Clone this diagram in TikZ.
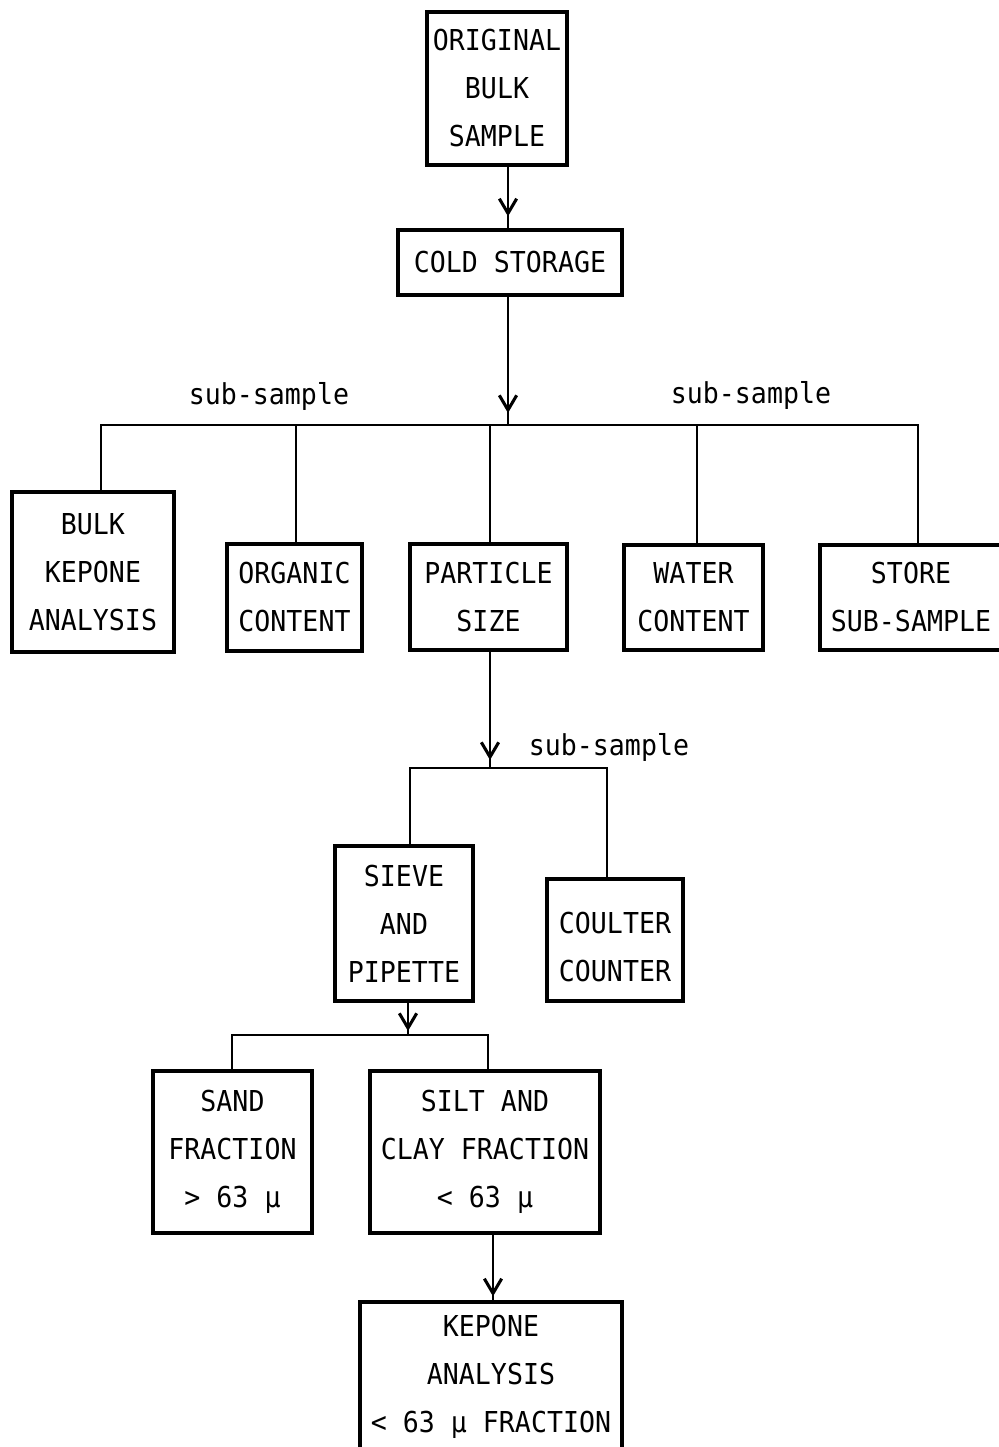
\documentclass[tikz,border=0pt]{standalone}
\usepackage{fontspec}
\setmonofont[FakeStretch=0.923]{DejaVu Sans Mono}
\usetikzlibrary{arrows.meta,decorations.markings,calc}
\newcommand\diagfont{\ttfamily\fontsize{21.6}{36}\selectfont}
\begin{document}
\begin{tikzpicture}[x=0.75pt,y=-0.75pt,
  box/.style={draw, line width=2.5pt, inner sep=0pt, align=center, font=\diagfont},
  wh/.style 2 args={minimum width={0.75pt*#1}, minimum height={0.75pt*#2}},
  lbl/.style={inner sep=0pt, font=\diagfont},
  conn/.style={line width=2pt},
  arr/.style={conn, postaction={decorate},
    decoration={markings, mark=at position #1 with {\arrow{Straight Barb[length=11pt,width=13pt,line width=2.3pt]}}}}
]
\useasboundingbox (0,0) rectangle (999,1447);
\clip (0,0) rectangle (999,1447);
\fill[white] (0,0) rectangle (999,1447);

% boxes
\node[box, wh={140}{153}] (orig) at (497,88.5) {ORIGINAL\\BULK\\SAMPLE};
\node[box, wh={224}{65}] (cold) at (510,262.5) {COLD STORAGE};
\node[box, wh={162}{160}] (bulk) at (93,572) {BULK\\KEPONE\\ANALYSIS};
\node[box, wh={135}{107}] (org) at (294.5,597.5) {ORGANIC\\CONTENT};
\node[box, wh={157}{106}] (part) at (488.5,597) {PARTICLE\\SIZE};
\node[box, wh={139}{105}] (water) at (693.5,597.5) {WATER\\CONTENT};
\node[box, wh={182}{105}] (store) at (911,597.5) {STORE\\SUB-SAMPLE};
\node[box, wh={138}{155}] (sieve) at (404,923.5) {SIEVE\\AND\\PIPETTE};
\node[box, wh={136}{122}, text height=63pt] (coulter) at (615,940) {COULTER\\COUNTER};
\node[box, wh={159}{162}] (sand) at (232.5,1152) {SAND\\FRACTION\\> 63 µ};
\node[box, wh={230}{162}] (silt) at (485,1152) {SILT AND\\CLAY FRACTION\\< 63 µ};
\node[box, wh={262}{150}] (kep) at (491,1377) {KEPONE\\ANALYSIS\\< 63 µ FRACTION};

% labels
\node[lbl] (ss1) at (269,396) {sub-sample};
\node[lbl] (ss2) at (751,395) {sub-sample};
\node[lbl] (ss3) at (609,747) {sub-sample};

% junction coordinates
\coordinate (j1) at (508,425);
\coordinate (j2) at (490,768);
\coordinate (j3) at (408,1035);

% top arrows
\draw[arr=-9pt] ($(orig.south)+(11,0)$) -- ($(cold.north)+(-2,0)$);
\draw[arr=-9pt] ($(cold.south)+(-2,0)$) -- (j1);

% first level tree
\coordinate (bb) at ($(bulk.north)+(8,0)$);
\coordinate (ob) at ($(org.north)+(1.5,0)$);
\coordinate (pt) at ($(part.north)+(1.5,0)$);
\coordinate (wb) at ($(water.north)+(3.5,0)$);
\coordinate (stb) at ($(store.north)+(7,0)$);
\draw[conn] (bb) |- (j1) -| (stb);
\draw[conn] (ob) -- (ob |- j1);
\draw[line width=1.3pt] (pt) -- (pt |- j1);
\draw[conn] (wb) -- (wb |- j1);

% particle size branch
\draw[arr=-6pt] ($(part.south)+(1.5,0)$) -- (j2);
\coordinate (sb) at ($(sieve.north)+(6,0)$);
\coordinate (cb) at ($(coulter.north)+(-8,0)$);
\draw[conn] (sb) |- (j2) -| (cb);

% sieve branch
\draw[arr=-3pt] ($(sieve.south)+(4,0)$) -- (j3);
\coordinate (sdb) at ($(sand.north)+(-0.5,0)$);
\coordinate (slb) at ($(silt.north)+(3,0)$);
\draw[conn] (sdb) |- (j3) -| (slb);

% final arrow
\draw[arr=-3pt] ($(silt.south)+(8,0)$) -- ($(kep.north)+(2,0)$);
\end{tikzpicture}
\end{document}
